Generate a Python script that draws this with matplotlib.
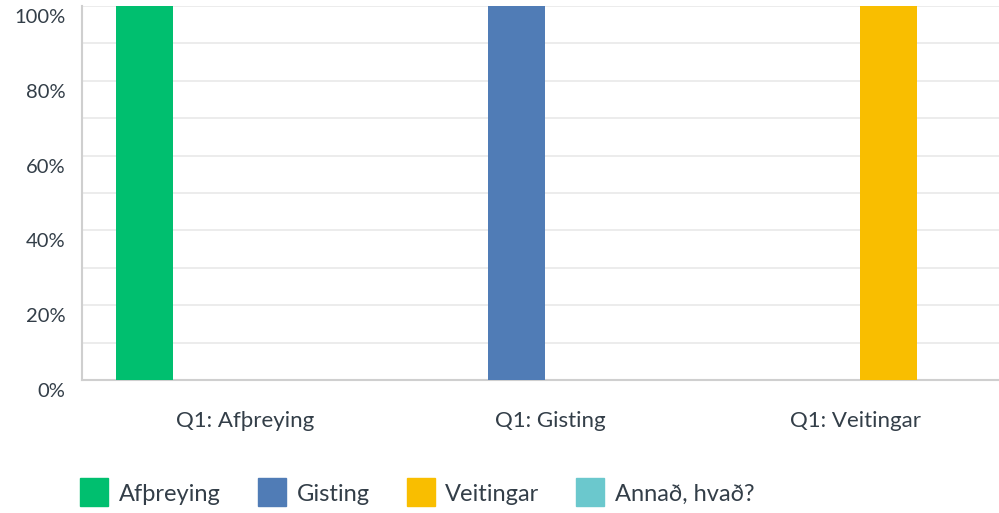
import numpy as np
import matplotlib
matplotlib.use('Agg')
import matplotlib.pyplot as plt
from matplotlib.lines import Line2D
from matplotlib.transforms import ScaledTranslation

# Data
categories = ['Q1: Afþreying', 'Q1: Gisting', 'Q1: Veitingar']
series = ['Afþreying', 'Gisting', 'Veitingar', 'Annað, hvað?']
values = {
    'Afþreying':    [100, 0, 0],
    'Gisting':      [0, 100, 0],
    'Veitingar':    [0, 0, 100],
    'Annað, hvað?': [0, 0, 0],
}
colors = ['#00BF6F', '#507CB6', '#F9BE00', '#6BC8CD']
yticks = [0, 20, 40, 60, 80, 100]

text_col = '#333E48'
plt.rcParams['font.family'] = ['Lato', 'DejaVu Sans']

fig = plt.figure(figsize=(9.99, 5.13), dpi=100)
ax = fig.add_axes([82 / 999, 1 - 380 / 513, 917 / 999, 374 / 513])

x = np.arange(len(categories))
step = 0.22
width = 0.187
for i, s in enumerate(series):
    ax.bar(x + (i - 1.5) * step, values[s], width=width, color=colors[i], zorder=3)

ax.set_xlim(-0.534, 2.472)
ax.set_ylim(0, 100)

ax.set_yticks(yticks)
ax.set_yticks(np.arange(10, 100, 20), minor=True)
ax.set_yticklabels([f'{v}%' for v in yticks], fontsize=14.5, color=text_col)
ax.yaxis.grid(True, which='both', color='#E9E9E9', linewidth=1.2, zorder=0)
ax.tick_params(axis='y', which='both', length=0, pad=12)
off = ScaledTranslation(0, -10 / 100, fig.dpi_scale_trans)
for lab in ax.get_yticklabels():
    lab.set_transform(lab.get_transform() + off)

ax.set_xticks(x)
ax.set_xticklabels(categories, fontsize=16, color=text_col)
ax.tick_params(axis='x', length=0, pad=22)

for side in ['top', 'right']:
    ax.spines[side].set_visible(False)
ax.spines['left'].set_color('#CFCFCF')
ax.spines['bottom'].set_color('#CFCFCF')
ax.spines['left'].set_linewidth(1.5)
ax.spines['bottom'].set_linewidth(1.5)

handles = [Line2D([], [], marker='s', linestyle='none', markersize=20,
                  markerfacecolor=c, markeredgecolor=c) for c in colors]
leg = fig.legend(handles, series, loc='lower left', bbox_to_anchor=(59 / 999, -0.025),
                 ncol=4, frameon=False, handletextpad=0.45,
                 columnspacing=1.55, handlelength=1.2,
                 prop={'family': ['Lato', 'DejaVu Sans'], 'size': 17})
for t in leg.get_texts():
    t.set_color(text_col)

fig.savefig('out.png', dpi=100)
